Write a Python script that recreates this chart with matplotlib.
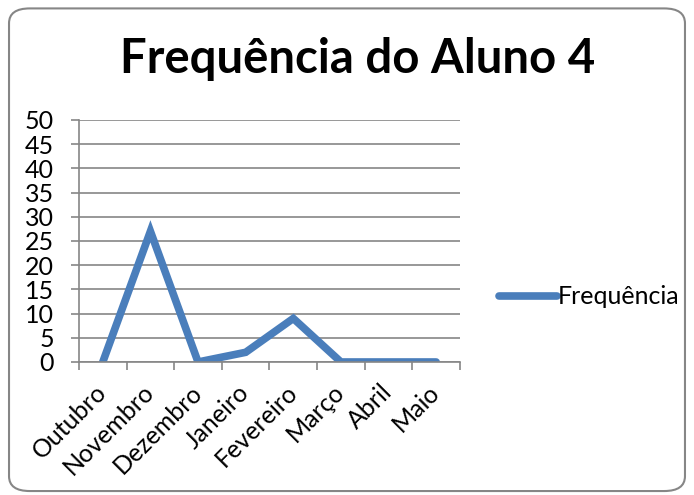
import matplotlib.pyplot as plt
from matplotlib.patches import FancyBboxPatch

# dados do gráfico
meses = ['Outubro', 'Novembro', 'Dezembro', 'Janeiro', 'Fevereiro', 'Março', 'Abril', 'Maio']
frequencia = [0, 27, 0, 2, 9, 0, 0, 0]
y_ticks = [0, 5, 10, 15, 20, 25, 30, 35, 40, 45, 50]

plt.rcParams['font.family'] = ['Lato', 'DejaVu Sans']

fig = plt.figure(figsize=(6.94, 4.95), dpi=100)

# borda arredondada do gráfico
borda = FancyBboxPatch((0.013, 0.008), 0.974, 0.975, boxstyle='round,pad=0,rounding_size=0.03',
                       transform=fig.transFigure, facecolor='white', edgecolor='#868686',
                       linewidth=1.5, zorder=-10)
fig.patches.append(borda)

ax = fig.add_axes([0.1138, 0.2687, 0.549, 0.4889])
ax.set_facecolor('none')
x = list(range(len(meses)))
ax.plot(x, frequencia, color='#4A7EBB', linewidth=5.5, solid_capstyle='round',
        solid_joinstyle='miter', label='Frequência')

ax.set_xlim(-0.5, len(meses) - 0.5)
ax.set_ylim(0, 50)
ax.set_yticks(y_ticks)
ax.set_yticklabels([str(v) for v in y_ticks], fontsize=18)
ax.set_xticks([i - 0.5 for i in range(len(meses) + 1)], minor=False)
ax.set_xticklabels([])
ax.set_xticks(x, minor=True)
ax.set_xticklabels(meses, minor=True, rotation=45, ha='right', va='center',
                   rotation_mode='anchor', fontsize=18)
ax.tick_params(axis='x', which='minor', length=0, pad=19)
ax.tick_params(axis='x', which='major', length=6, color='#868686', width=1.2, direction='out')
ax.tick_params(axis='y', length=6, color='#868686', width=1.2, direction='out', pad=12)

ax.grid(axis='y', color='#868686', linewidth=1.2)
ax.set_axisbelow(True)
for side in ['top', 'right']:
    ax.spines[side].set_visible(False)
for side in ['left', 'bottom']:
    ax.spines[side].set_color('#868686')
    ax.spines[side].set_linewidth(1.2)

fig.text(0.516, 0.88, 'Frequência do Aluno 4', ha='center', va='center',
         fontsize=34, fontweight='bold')

fig.legend(loc='center left', bbox_to_anchor=(0.687, 0.40), frameon=False, fontsize=18,
           handlelength=2.3, handletextpad=0.05)

fig.savefig('out.png', dpi=100)
